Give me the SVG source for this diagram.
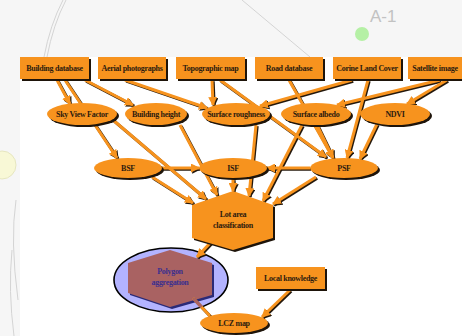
<svg xmlns="http://www.w3.org/2000/svg" width="462" height="336" viewBox="0 0 462 336">
<style>
.bg{fill:#f6f6f6}
.deco{fill:none;stroke:#d4d4d4;stroke-width:1}
.box{fill:#f7931e}
.sh{fill:#1e140a}
.t{font-family:"Liberation Serif","DejaVu Serif",serif;font-weight:bold;font-size:8px;fill:#2d1b0e;text-anchor:middle;letter-spacing:-0.3px}
.tp{font-family:"Liberation Serif","DejaVu Serif",serif;font-weight:bold;font-size:8px;fill:#3b2f8f;text-anchor:middle;letter-spacing:-0.3px}
.e line{stroke:#f7931e;stroke-width:3;marker-end:url(#ah)}
.es line{stroke:#24180c;stroke-width:3;marker-end:url(#ahd)}
</style>
<defs>
<marker id="ah" markerUnits="userSpaceOnUse" markerWidth="9" markerHeight="9" refX="8" refY="4.5" orient="auto"><path d="M0,0 L9,4.5 L0,9 z" fill="#f7931e"/></marker>
<marker id="ahd" markerUnits="userSpaceOnUse" markerWidth="9" markerHeight="9" refX="8" refY="4.5" orient="auto"><path d="M0,0 L9,4.5 L0,9 z" fill="#24180c"/></marker>
</defs>

<!-- background -->
<rect class="bg" x="0" y="0" width="462" height="336"/>
<rect x="20" y="57" width="442" height="279" fill="#ffffff"/>
<path class="deco" d="M63,0 Q50,25 44,57"/>
<path class="deco" d="M66,0 Q53,25 47,57"/>
<path class="deco" d="M242,0 L310,57"/>
<path class="deco" d="M12,250 Q8,290 14,336"/>
<path class="deco" d="M16,200 Q10,240 18,300"/>
<circle cx="2" cy="165" r="14" fill="#f8f8d6" stroke="#e6e6c0" stroke-width="1"/>
<circle cx="362" cy="34" r="7" fill="#b5f0a5"/>
<text x="370" y="22" font-family="Liberation Sans, Arial, sans-serif" font-size="17" fill="#c2c2c2">A-1</text>

<!-- Polygon aggregation node (drawn below connectors) -->
<g id="polygon-aggregation">
<ellipse cx="171" cy="280" rx="57" ry="32" fill="#b3b3ff" stroke="#000" stroke-width="1.6"/>
<polygon points="172,252 214,265 214,297 172,309 130,295 130,265" fill="#2a2a78"/>
<polygon points="170,250 212,263 212,295 170,307 128,293 128,263" fill="#a96262"/>
<text class="tp" x="170" y="273.5">Polygon</text>
<text class="tp" x="170" y="284.5">aggregation</text>
</g>

<!-- connectors -->
<g id="connectors">
<g class="es" transform="translate(1.2,1.2)">
<line x1="57" y1="80" x2="70" y2="104"/>
<line x1="65" y1="80" x2="117" y2="158"/>
<line x1="85" y1="80" x2="133" y2="105"/>
<line x1="125" y1="80" x2="207" y2="108"/>
<line x1="212" y1="80" x2="213" y2="105"/>
<line x1="220" y1="80" x2="326" y2="157"/>
<line x1="289" y1="80" x2="333" y2="158"/>
<line x1="352" y1="80" x2="260" y2="106"/>
<line x1="368" y1="80" x2="347" y2="158"/>
<line x1="440" y1="80" x2="337" y2="105"/>
<line x1="447" y1="80" x2="407" y2="104"/>
<line x1="113" y1="120" x2="206" y2="199"/>
<line x1="180" y1="125" x2="217" y2="195"/>
<line x1="256" y1="125" x2="249" y2="196"/>
<line x1="302" y1="125" x2="263" y2="201"/>
<line x1="317" y1="125" x2="333" y2="158"/>
<line x1="377" y1="124" x2="360" y2="159"/>
<line x1="162" y1="168" x2="199" y2="168"/>
<line x1="310" y1="168" x2="267" y2="168"/>
<line x1="152" y1="177" x2="193" y2="203"/>
<line x1="233" y1="179" x2="233" y2="191"/>
<line x1="316" y1="177" x2="273" y2="204"/>
<line x1="212" y1="241" x2="197" y2="257"/>
<line x1="290" y1="290" x2="262" y2="317"/>
</g>
<g class="e">
<line x1="57" y1="80" x2="70" y2="104"/>
<line x1="65" y1="80" x2="117" y2="158"/>
<line x1="85" y1="80" x2="133" y2="105"/>
<line x1="125" y1="80" x2="207" y2="108"/>
<line x1="212" y1="80" x2="213" y2="105"/>
<line x1="220" y1="80" x2="326" y2="157"/>
<line x1="289" y1="80" x2="333" y2="158"/>
<line x1="352" y1="80" x2="260" y2="106"/>
<line x1="368" y1="80" x2="347" y2="158"/>
<line x1="440" y1="80" x2="337" y2="105"/>
<line x1="447" y1="80" x2="407" y2="104"/>
<line x1="113" y1="120" x2="206" y2="199"/>
<line x1="180" y1="125" x2="217" y2="195"/>
<line x1="256" y1="125" x2="249" y2="196"/>
<line x1="302" y1="125" x2="263" y2="201"/>
<line x1="317" y1="125" x2="333" y2="158"/>
<line x1="377" y1="124" x2="360" y2="159"/>
<line x1="162" y1="168" x2="199" y2="168"/>
<line x1="310" y1="168" x2="267" y2="168"/>
<line x1="152" y1="177" x2="193" y2="203"/>
<line x1="233" y1="179" x2="233" y2="191"/>
<line x1="316" y1="177" x2="273" y2="204"/>
<line x1="212" y1="241" x2="197" y2="257"/>
<line x1="290" y1="290" x2="262" y2="317"/>
</g>
<line x1="194.2" y1="299.2" x2="211.2" y2="317.2" stroke="#24180c" stroke-width="3"/>
<line x1="193" y1="298" x2="210" y2="316" stroke="#f7931e" stroke-width="3"/>
<line x1="193" y1="298" x2="201.5" y2="307" stroke="#a96262" stroke-width="3"/>
</g>

<!-- top sources -->
<g id="building-database"><rect class="sh" x="22" y="59" width="69" height="22"/><rect class="box" x="20" y="57" width="69" height="22"/><text class="t" x="54.5" y="70.5">Building database</text></g>
<g id="aerial-photographs"><rect class="sh" x="100" y="59" width="68" height="22"/><rect class="box" x="98" y="57" width="68" height="22"/><text class="t" x="132" y="70.5">Aerial photographs</text></g>
<g id="topographic-map"><rect class="sh" x="178" y="59" width="69" height="22"/><rect class="box" x="176" y="57" width="69" height="22"/><text class="t" x="210.5" y="70.5">Topographic map</text></g>
<g id="road-database"><rect class="sh" x="257" y="59" width="68" height="22"/><rect class="box" x="255" y="57" width="68" height="22"/><text class="t" x="289" y="70.5">Road database</text></g>
<g id="corine-land-cover"><rect class="sh" x="335" y="59" width="68" height="22"/><rect class="box" x="333" y="57" width="68" height="22"/><text class="t" x="367" y="70.5">Corine Land Cover</text></g>
<g id="satellite-image"><rect class="sh" x="410" y="59" width="60" height="22"/><rect class="box" x="408" y="57" width="60" height="22"/><text class="t" x="435" y="70.5">Satellite image</text></g>

<!-- derived layers -->
<g id="sky-view-factor"><ellipse class="sh" cx="84" cy="116" rx="35" ry="11"/><ellipse class="box" cx="82" cy="114" rx="35" ry="11"/><text class="t" x="82" y="116.5">Sky View Factor</text></g>
<g id="building-height"><ellipse class="sh" cx="158" cy="116" rx="31" ry="11"/><ellipse class="box" cx="156" cy="114" rx="31" ry="11"/><text class="t" x="156" y="116.5">Building height</text></g>
<g id="surface-roughness"><ellipse class="sh" cx="238" cy="116" rx="34" ry="11"/><ellipse class="box" cx="236" cy="114" rx="34" ry="11"/><text class="t" x="236" y="116.5">Surface roughness</text></g>
<g id="surface-albedo"><ellipse class="sh" cx="318" cy="116" rx="35" ry="11"/><ellipse class="box" cx="316" cy="114" rx="35" ry="11"/><text class="t" x="316" y="116.5">Surface albedo</text></g>
<g id="ndvi"><ellipse class="sh" cx="397" cy="116" rx="35" ry="11"/><ellipse class="box" cx="395" cy="114" rx="35" ry="11"/><text class="t" x="395" y="116.5">NDVI</text></g>

<g id="bsf"><ellipse class="sh" cx="130" cy="170" rx="34" ry="10"/><ellipse class="box" cx="128" cy="168" rx="34" ry="10"/><text class="t" x="128" y="170.5">BSF</text></g>
<g id="isf"><ellipse class="sh" cx="235" cy="170" rx="34" ry="10"/><ellipse class="box" cx="233" cy="168" rx="34" ry="10"/><text class="t" x="233" y="170.5">ISF</text></g>
<g id="psf"><ellipse class="sh" cx="346" cy="170" rx="34" ry="10"/><ellipse class="box" cx="344" cy="168" rx="34" ry="10"/><text class="t" x="344" y="170.5">PSF</text></g>

<g id="lot-area-classification">
<polygon class="sh" points="235,193 275,207 275,240 235,252 194,240 194,207"/>
<polygon class="box" points="233,191 273,205 273,238 233,250 192,238 192,205"/>
<text class="t" x="233" y="216.5">Lot area</text>
<text class="t" x="233" y="227.5">classification</text>
</g>

<g id="local-knowledge"><rect class="sh" x="258" y="269" width="69" height="22"/><rect class="box" x="256" y="267" width="69" height="22"/><text class="t" x="290.5" y="280.5">Local knowledge</text></g>

<g id="lcz-map"><ellipse class="sh" cx="236" cy="325" rx="34" ry="10"/><ellipse class="box" cx="234" cy="323" rx="34" ry="10"/><text class="t" x="234" y="325.5">LCZ map</text></g>
</svg>
